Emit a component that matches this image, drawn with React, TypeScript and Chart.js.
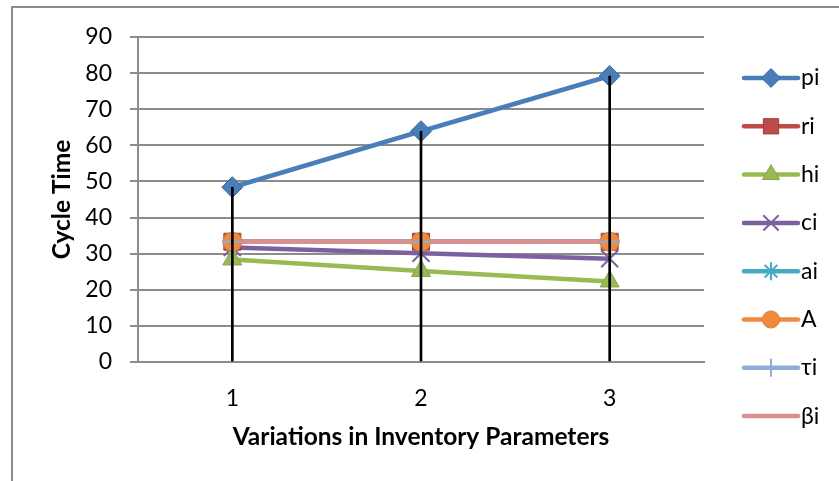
import React, { useEffect, useRef } from 'react';
import { Chart, registerables } from 'chart.js';
import { drawPoint } from 'chart.js/helpers';

Chart.register(...registerables);

// Categories along the x axis
const categories = ['1', '2', '3'];

// Cycle time for each inventory parameter
const pi = [48.4, 63.9, 79.2];
const ri = [33.3, 33.3, 33.3];
const hi = [28.4, 25.2, 22.3];
const ci = [31.7, 30.1, 28.6];
const ai = [33.3, 33.3, 33.3];
const A = [33.3, 33.3, 33.3];
const tau = [33.3, 33.3, 33.3];
const beta = [33.3, 33.3, 33.3];

// Y axis range
const yMin = 0;
const yMax = 90;
const yStep = 10;

const FONT = 'Lato, "Open Sans", sans-serif';

type Series = {
  label: string;
  data: number[];
  color: string;
  fill: string;
  edge: string;
  marker: string | false;
  radius: number;
  edgeWidth: number;
};

const series: Series[] = [
  { label: 'pi', data: pi, color: '#4A7EBB', fill: '#4A7EBB', edge: '#3D6BA3', marker: 'rectRot', radius: 10.5, edgeWidth: 1 },
  { label: 'ri', data: ri, color: '#BE4B48', fill: '#BE4B48', edge: '#A33E3B', marker: 'rect', radius: 12, edgeWidth: 1 },
  { label: 'hi', data: hi, color: '#98B954', fill: '#98B954', edge: '#87A54A', marker: 'triangle', radius: 11, edgeWidth: 1 },
  { label: 'ci', data: ci, color: '#7D60A0', fill: '#7D60A0', edge: '#7D60A0', marker: 'crossRot', radius: 12, edgeWidth: 2 },
  { label: 'ai', data: ai, color: '#46AAC5', fill: '#46AAC5', edge: '#46AAC5', marker: 'star', radius: 10, edgeWidth: 2 },
  { label: 'A', data: A, color: '#F08A3C', fill: '#F08A3C', edge: '#E07F35', marker: 'circle', radius: 9.5, edgeWidth: 1 },
  { label: 'τi', data: tau, color: '#8EACD6', fill: '#8EACD6', edge: '#8EACD6', marker: 'cross', radius: 10, edgeWidth: 2 },
  { label: 'βi', data: beta, color: '#D89190', fill: '#D89190', edge: '#D89190', marker: false, radius: 0, edgeWidth: 0 },
];

// Legend drawn at the right of the plot: line sample, marker and name
const sideLegend = {
  id: 'sideLegend',
  afterDraw(chart: any) {
    const ctx = chart.ctx as CanvasRenderingContext2D;
    ctx.save();
    series.forEach((s, i) => {
      const y = 78 + i * 48.3;
      ctx.strokeStyle = s.color;
      ctx.lineWidth = 4.5;
      ctx.lineCap = 'round';
      ctx.beginPath();
      ctx.moveTo(744, y);
      ctx.lineTo(798, y);
      ctx.stroke();
      if (s.marker) {
        ctx.fillStyle = s.fill;
        ctx.strokeStyle = s.edge;
        ctx.lineWidth = s.edgeWidth;
        ctx.lineCap = 'butt';
        drawPoint(ctx, { pointStyle: s.marker, radius: s.radius * 0.9, rotation: 0, borderWidth: s.edgeWidth } as any, 771, y);
      }
      ctx.fillStyle = '#000';
      ctx.font = `23px ${FONT}`;
      ctx.textAlign = 'left';
      ctx.textBaseline = 'middle';
      ctx.fillText(s.label, 801, y);
    });
    ctx.restore();
  },
};

export default function App() {
  const canvasRef = useRef<HTMLCanvasElement | null>(null);

  useEffect(() => {
    const canvas = canvasRef.current;
    if (!canvas) return;

    // Lines first, markers above every line, drop lines on top
    const lineSets = series.map((s, i) => ({
      type: 'line' as const,
      label: s.label,
      data: s.data,
      borderColor: s.color,
      borderWidth: 4.5,
      pointRadius: 0,
      pointHoverRadius: 0,
      tension: 0,
      order: 100 - i,
    }));
    const markerSets = series
      .filter((s) => s.marker)
      .map((s, i) => ({
        type: 'line' as const,
        label: s.label + ' markers',
        data: s.data,
        showLine: false,
        borderColor: s.color,
        pointStyle: s.marker as any,
        pointRadius: s.radius,
        pointHoverRadius: s.radius,
        pointBackgroundColor: s.fill,
        pointBorderColor: s.edge,
        pointBorderWidth: s.edgeWidth,
        order: 50 - i,
      }));
    const dropLines = {
      type: 'bar' as const,
      label: 'drop lines',
      data: pi,
      backgroundColor: '#000000',
      barThickness: 2,
      order: 0,
    };

    const chart = new Chart(canvas, {
      type: 'line',
      data: {
        labels: categories,
        datasets: [...lineSets, ...markerSets, dropLines] as any,
      },
      options: {
        responsive: false,
        animation: false,
        events: [],
        layout: { padding: { top: 37, right: 135, bottom: 0, left: 0 } },
        plugins: {
          legend: { display: false },
          tooltip: { enabled: false },
        },
        scales: {
          x: {
            offset: true,
            grid: { display: false, drawTicks: false },
            border: { display: true, color: '#8C8C8C', width: 2 },
            ticks: { color: '#000', padding: 23, font: { family: FONT, size: 23 } },
            title: {
              display: true,
              text: 'Variations in Inventory Parameters',
              color: '#000',
              font: { family: FONT, size: 24.5, weight: 'bold' },
              padding: { top: 0, bottom: 29 },
            },
            afterFit: (scale: any) => {
              scale.height = 119;
            },
          },
          y: {
            min: yMin,
            max: yMax,
            ticks: { stepSize: yStep, color: '#000', padding: 18, font: { family: FONT, size: 23 } },
            grid: { color: '#8C8C8C', lineWidth: 2, tickLength: 8, drawTicks: true },
            border: { display: true, color: '#8C8C8C', width: 2 },
            title: {
              display: true,
              text: 'Cycle Time',
              color: '#000',
              font: { family: FONT, size: 24.5, weight: 'bold' },
              padding: { top: 47, bottom: 0 },
            },
            afterFit: (scale: any) => {
              scale.width = 138;
            },
          },
        },
      },
      plugins: [sideLegend],
    });

    return () => chart.destroy();
  }, []);

  return (
    <div
      style={{
        position: 'fixed',
        left: 0,
        top: 0,
        width: 839,
        height: 481,
        overflow: 'hidden',
        background: '#ffffff',
      }}
    >
      <div
        style={{
          position: 'absolute',
          left: 11,
          top: 6,
          width: 1000,
          height: 1000,
          border: '2px solid #8C8C8C',
        }}
      />
      <canvas
        ref={canvasRef}
        width={839}
        height={481}
        style={{ position: 'absolute', left: 0, top: 0, width: 839, height: 481 }}
      />
    </div>
  );
}
